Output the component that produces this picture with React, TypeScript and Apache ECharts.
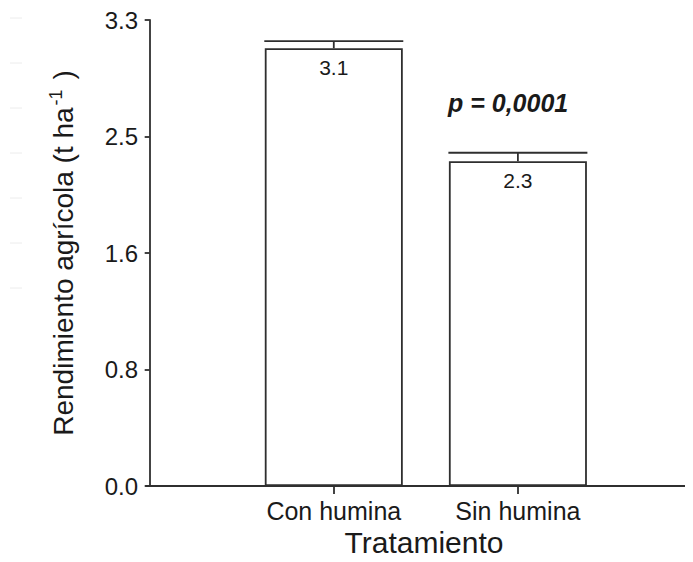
import React, { useEffect, useRef } from "react";
import * as echarts from "echarts";

const categories = ["Con humina", "Sin humina"];
const categoryPositions = [1, 2];
const yieldValues = [3.1, 2.3];
const errorValues = [0.05, 0.06];
const yTickLabels = ["0.0", "0.8", "1.6", "2.5", "3.3"];
const yMax = 3.3;
const yInterval = 0.825;
const pValueText = "p = 0,0001";

const FONT = "'Liberation Sans', Arial, Helvetica, sans-serif";
const INK = "#1a1a1a";
const LINE = "#2f2f2f";
const BAR_WIDTH = 138;

export default function App() {
  const ref = useRef<HTMLDivElement>(null);

  useEffect(() => {
    if (!ref.current) return;
    const chart = echarts.init(ref.current, undefined, { renderer: "svg" });

    const barData = categoryPositions.map((x, i) => [x, yieldValues[i]]);
    const errData = categoryPositions.map((x, i) => [x, yieldValues[i], errorValues[i]]);

    const faintY = [18, 63, 108, 153, 198, 243, 288];

    chart.setOption({
      animation: false,
      backgroundColor: "#fff",
      grid: {
        left: 146,
        right: -9,
        top: 20,
        bottom: 76,
        containLabel: false,
        outerBoundsMode: "none",
      },
      xAxis: {
        type: "value",
        min: -0.02,
        max: 3,
        name: "Tratamiento",
        nameLocation: "middle",
        nameGap: 37,
        nameTextStyle: { fontFamily: FONT, fontSize: 30, color: INK },
        axisLine: { show: true, lineStyle: { color: LINE, width: 1.8 } },
        axisTick: {
          show: true,
          length: 8,
          customValues: categoryPositions,
          lineStyle: { color: LINE, width: 1.8 },
        },
        axisLabel: {
          customValues: categoryPositions,
          formatter: (v: number) => categories[Math.round(v) - 1] ?? "",
          fontFamily: FONT,
          fontSize: 25,
          color: INK,
          margin: 12,
        },
        splitLine: { show: false },
      },
      yAxis: {
        type: "value",
        min: 0,
        max: yMax,
        interval: yInterval,
        name: "{a|Rendimiento agrícola (t ha}{s|-1}{a| )}",
        nameLocation: "middle",
        nameRotate: 90,
        nameGap: 67,
        nameTextStyle: {
          fontFamily: FONT,
          fontSize: 28,
          color: INK,
          rich: {
            a: { fontFamily: FONT, fontSize: 28, color: INK },
            s: { fontFamily: FONT, fontSize: 18, color: INK, verticalAlign: "top", padding: [0, 2, 14, 2] },
          },
        },
        axisLine: { show: true, lineStyle: { color: LINE, width: 1.8 } },
        axisTick: { show: true, length: 5, lineStyle: { color: LINE, width: 1.8 } },
        axisLabel: {
          formatter: (v: number) => yTickLabels[Math.round(v / yInterval)] ?? "",
          fontFamily: FONT,
          fontSize: 24,
          color: INK,
          margin: 8,
        },
        splitLine: { show: false },
      },
      graphic: [
        ...faintY.map((y) => ({
          type: "line",
          shape: { x1: 10, y1: y, x2: 22, y2: y },
          style: { stroke: "#ececec", lineWidth: 1 },
          silent: true,
        })),
        {
          type: "text",
          left: 448,
          top: 90,
          style: {
            text: pValueText,
            font: `italic bold 25px ${FONT}`,
            fill: INK,
          },
        },
      ],
      series: [
        {
          type: "bar",
          data: barData,
          barWidth: BAR_WIDTH,
          itemStyle: { color: "#fff", borderColor: LINE, borderWidth: 1.8 },
          label: {
            show: true,
            position: "insideTop",
            distance: 9,
            formatter: (p: any) => String(p.value[1]),
            fontFamily: FONT,
            fontSize: 21,
            color: INK,
          },
          z: 2,
        },
        {
          type: "custom",
          data: errData,
          encode: { x: 0, y: 1 },
          z: 3,
          renderItem: (params: any, api: any) => {
            const x = api.value(0);
            const v = api.value(1);
            const e = api.value(2);
            const base = api.coord([x, v]);
            const top = api.coord([x, v + e]);
            const half = BAR_WIDTH / 2 + 0.5;
            const style = { stroke: LINE, lineWidth: 1.8 };
            return {
              type: "group",
              children: [
                {
                  type: "line",
                  shape: { x1: base[0] - half, y1: top[1], x2: base[0] + half, y2: top[1] },
                  style,
                },
                {
                  type: "line",
                  shape: { x1: base[0], y1: top[1], x2: base[0], y2: base[1] },
                  style,
                },
              ],
            };
          },
        },
      ],
    });

    return () => chart.dispose();
  }, []);

  return <div ref={ref} style={{ width: 693, height: 562, margin: -8 }} />;
}
